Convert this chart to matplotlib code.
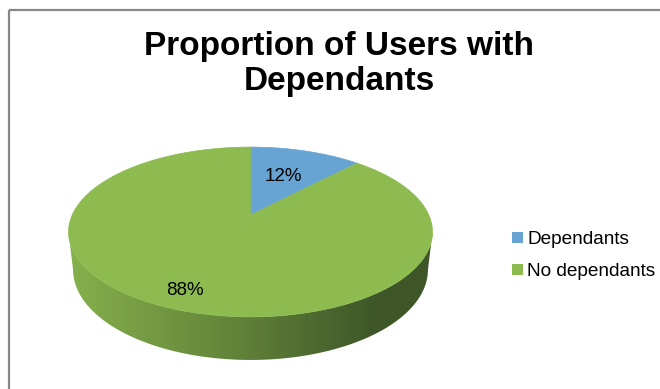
import numpy as np
import matplotlib.pyplot as plt
from matplotlib.patches import Polygon, Rectangle, Patch
from matplotlib.colors import LinearSegmentedColormap

plt.rcParams['font.family'] = ['Liberation Sans', 'DejaVu Sans']

# datos
labels = ['Dependants', 'No dependants']
values = [12, 88]
pct_text = ['12%', '88%']
colors = ['#67A4D3', '#8DBB50']
side_colors = [['#7FB0DA', '#4F7FA8', '#2F5478'],
               ['#86B04C', '#62843A', '#3E5628']]
label_r = [0.56, 0.84]

# parametros de la vista en perspectiva
elev = np.radians(27.2)
dist = 4.45
thick = 0.24
cx, cy, scale = 250.5, 215, 178.3


def proj(theta, r=1.0, h=0.0):
    # proyecta un punto del disco (angulo desde las 12, sentido horario)
    x = r*np.sin(theta)
    d = r*np.cos(theta)
    yc = d*np.sin(elev) + h*np.cos(elev)
    zc = dist + d*np.cos(elev) - h*np.sin(elev)
    return cx + scale*dist*x/zc, cy - scale*dist*yc/zc


fig = plt.figure(figsize=(6.6, 3.89), dpi=100)
ax = fig.add_axes([0, 0, 1, 1])
ax.set_xlim(0, 660)
ax.set_ylim(389, 0)
ax.axis('off')

# marco del grafico
ax.add_patch(Rectangle((8.5, 9.5), 700, 420, fill=False, edgecolor='#878787', lw=1.6))

frac = np.array(values, dtype=float)/sum(values)
edges = np.concatenate([[0], np.cumsum(frac)])*2*np.pi

# lateral visible (parte delantera)
th_r = np.arccos(-np.cos(elev)/dist)
th_l = 2*np.pi - th_r
for i in range(len(values)):
    a0 = max(edges[i], th_r)
    a1 = min(edges[i+1], th_l)
    if a1 <= a0:
        continue
    t = np.linspace(a0, a1, 200)
    xt, yt = proj(t)
    xb, yb = proj(t[::-1], h=-thick)
    pts = np.column_stack([np.concatenate([xt, xb]), np.concatenate([yt, yb])])
    poly = Polygon(pts, closed=True, facecolor='none', edgecolor='none')
    ax.add_patch(poly)
    cmap = LinearSegmentedColormap.from_list('lado%d' % i, [(0, side_colors[i][0]), (0.45, side_colors[i][1]),
                                                            (0.85, side_colors[i][2]), (1, side_colors[i][2])])
    x0, x1 = proj(th_l)[0], proj(th_r)[0]
    grad = np.linspace(0, 1, 256).reshape(1, -1)
    img = ax.imshow(grad, cmap=cmap, aspect='auto', extent=[x0, x1, max(yb) + 2, min(yt) - 2],
                    interpolation='bilinear', zorder=1)
    img.set_clip_path(poly)

# cara superior
for i in range(len(values)):
    t = np.linspace(edges[i], edges[i+1], 300)
    xr, yr = proj(t)
    ax0, ay0 = proj(0, r=0)
    pts = np.column_stack([np.concatenate([[ax0], xr]), np.concatenate([[ay0], yr])])
    ax.add_patch(Polygon(pts, closed=True, facecolor=colors[i], edgecolor=colors[i], lw=0.5, zorder=2))

# etiquetas de porcentaje
for i in range(len(values)):
    mid = (edges[i] + edges[i+1])/2
    lx, ly = proj(mid, r=label_r[i])
    ax.text(lx, ly, pct_text[i], fontsize=13.5, ha='center', va='center', zorder=3)

# titulo
ax.text(339, 64, 'Proportion of Users with\nDependants', fontsize=24, fontweight='bold',
        ha='center', va='center', linespacing=1.13)

# leyenda
handles = [Patch(facecolor=c, edgecolor='none') for c in colors]
ax.legend(handles, labels, loc='upper left', bbox_to_anchor=(0.75, 0.45), frameon=False,
          fontsize=13.7, handlelength=0.55, handleheight=0.55, handletextpad=0.25, labelspacing=0.8)

fig.savefig('out.png', dpi=100)
